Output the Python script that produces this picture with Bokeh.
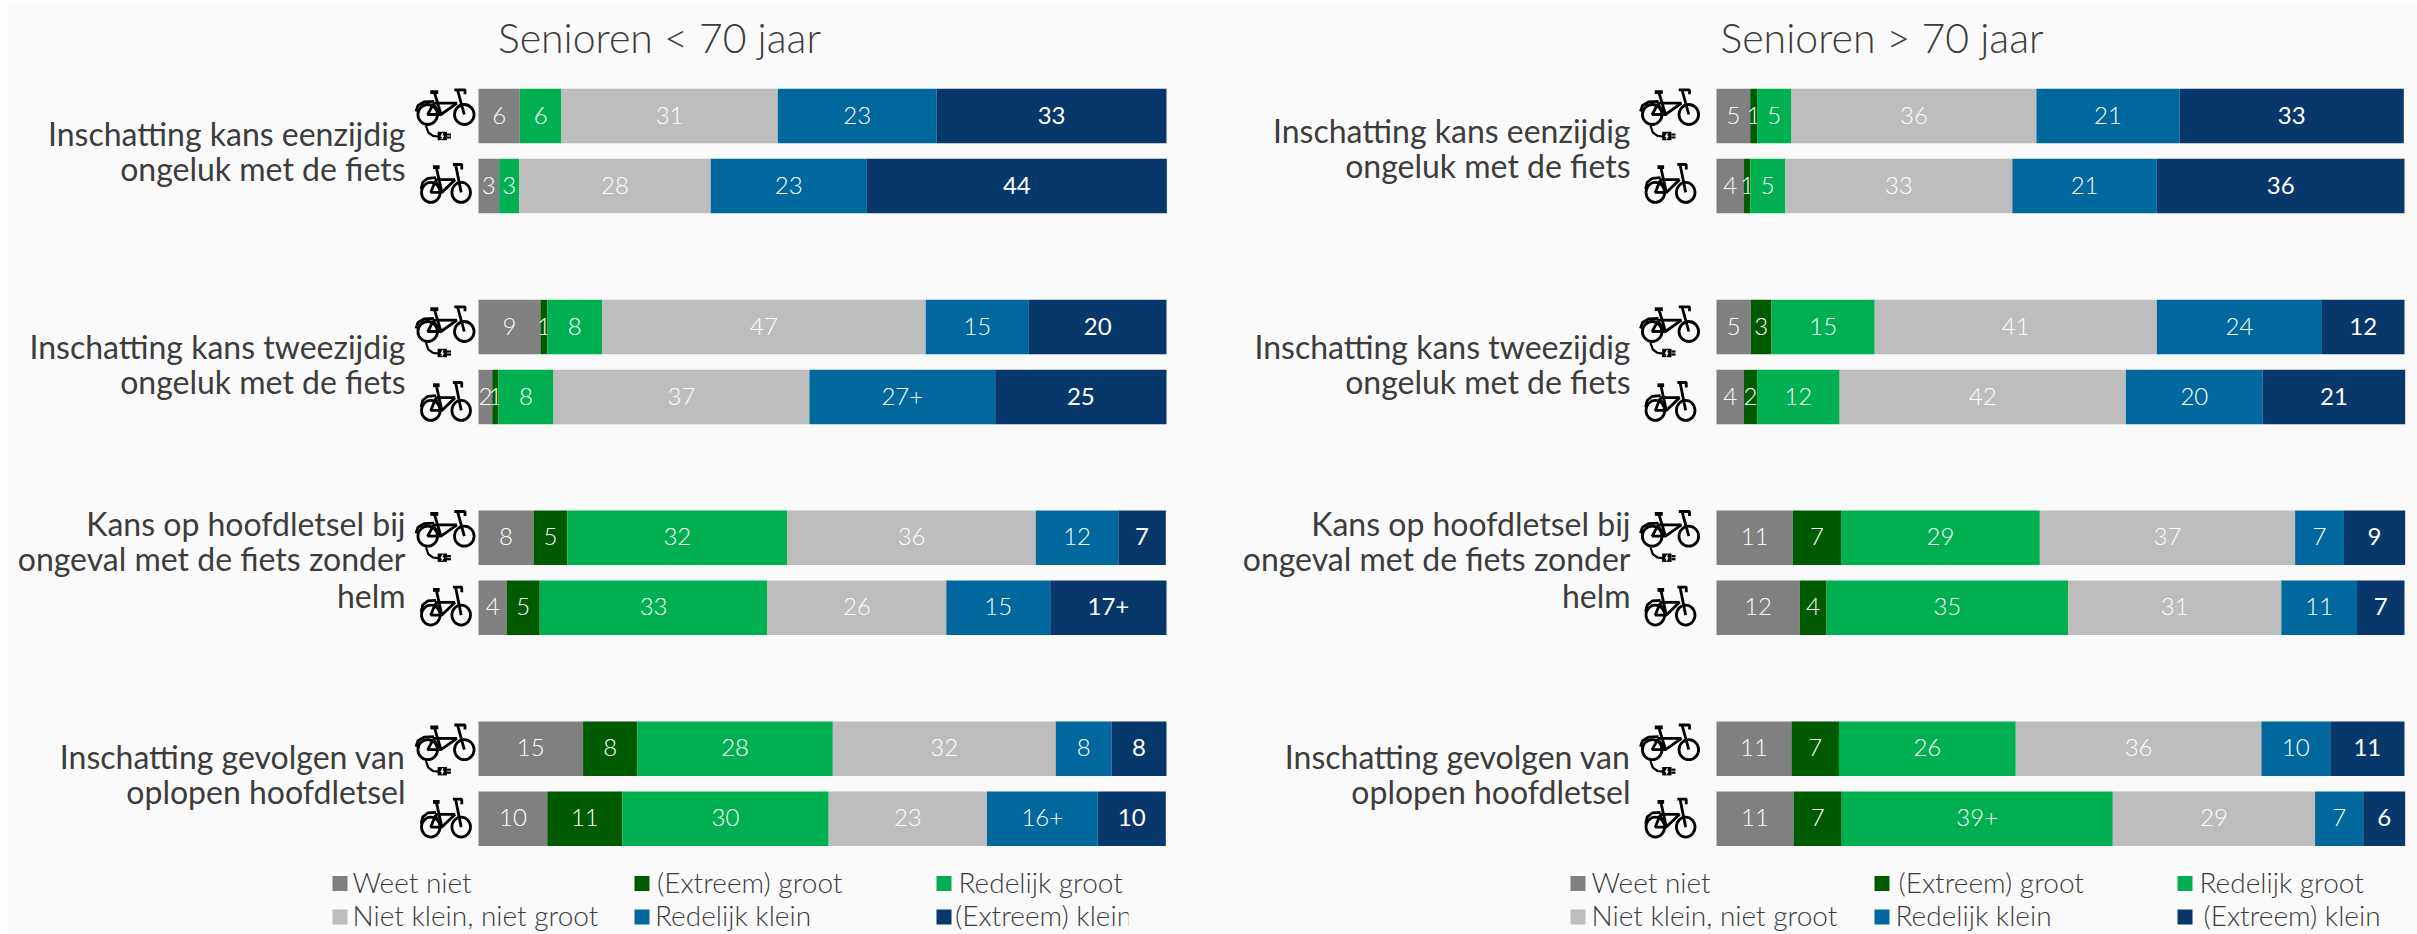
from bokeh.plotting import figure
from bokeh.layouts import row
from bokeh.models import Range1d, ColumnDataSource
from bokeh.core.properties import value
from bokeh.embed import file_html
from bokeh.resources import INLINE

# ---------- data (e-bike / bike alternate, four questions) ----------
series_names = ["Weet niet", "(Extreem) groot", "Redelijk groot",
                "Niet klein, niet groot", "Redelijk klein", "(Extreem) klein"]
series_colors = ["#808080", "#005a00", "#00b050", "#bdbdbd", "#00689c", "#07376b"]
panel_titles = ["Senioren < 70 jaar", "Senioren > 70 jaar"]
questions = ["Inschatting kans eenzijdig\nongeluk met de fiets",
             "Inschatting kans tweezijdig\nongeluk met de fiets",
             "Kans op hoofdletsel bij\nongeval met de fiets zonder\nhelm",
             "Inschatting gevolgen van\noplopen hoofdletsel"]

young_weet_niet = [6.0, 3.0, 9.0, 2.0, 8.0, 4.1, 15.2, 10.0]
young_groot = [0.0, 0.0, 1.0, 0.9, 4.9, 4.8, 7.9, 10.9]
young_red_groot = [6.05, 2.9, 8.0, 8.0, 32.0, 33.1, 28.4, 30.0]
young_neutraal = [31.45, 27.85, 47.0, 37.2, 36.1, 26.0, 32.4, 23.0]
young_red_klein = [23.1, 22.7, 15.0, 27.0, 12.0, 15.1, 8.1, 16.1]
young_klein = [33.4, 43.6, 20.0, 24.9, 6.9, 16.9, 8.0, 9.9]
young_plus = [(3, 4), (5, 5), (7, 4)]

old_weet_niet = [4.9, 4.0, 5.0, 4.0, 11.1, 12.1, 10.9, 11.2]
old_groot = [1.0, 0.9, 3.0, 1.9, 7.0, 3.9, 6.9, 7.0]
old_red_groot = [5.0, 5.1, 15.0, 12.0, 28.9, 35.1, 25.7, 39.4]
old_neutraal = [35.6, 33.0, 41.0, 41.6, 37.1, 31.0, 35.7, 29.4]
old_red_klein = [20.8, 21.0, 24.0, 19.9, 7.1, 11.0, 10.0, 7.0]
old_klein = [32.6, 36.0, 12.0, 20.7, 8.9, 6.9, 10.8, 6.1]
old_plus = [(7, 2)]

# ---------- layout (pixels of the page) ----------
BG = "#fafafa"
TEXT = "#3c3c3c"
FONT = "Lato Light"
FONT_REG = "Lato"
BAR_W = 688.0
UNIT = BAR_W / 100
ROW_TOPS = [88.3, 158.3, 299.3, 369.3, 510, 580, 721, 791]
BAR_H = 54.4
ICON_DY = [-1.5, -2, 4.5, 5, -1.5, -1, 1, 0]
LABEL_MID = [[133, 168], [346, 381], [523, 558, 595], [756, 791]]
LEG_ROWS = [883, 916.5]
PAGE_H = 934

PANELS = [
    dict(width=1208, frame_left=7, bar=478, label_x=405, icon_x=445.5, title_x=497.4,
         rows=[young_weet_niet, young_groot, young_red_groot, young_neutraal, young_red_klein, young_klein],
         plus=young_plus, leg_sq=[332, 634, 936], leg_tx=[[352, 656.5, 958], [352, 654.5, 954.5]],
         label_dy=0, clip_at=1128),
    dict(width=1209, frame_left=1208, bar=1716, label_x=1630, icon_x=1670, title_x=1720,
         rows=[old_weet_niet, old_groot, old_red_groot, old_neutraal, old_red_klein, old_klein],
         plus=old_plus, leg_sq=[1570, 1874, 2177], leg_tx=[[1591, 1898, 2199], [1591, 1895, 2203]],
         label_dy=-3, clip_at=None),
]

ICON_LINES = [
    [(-11.7, -22.3), (-5, 0)],                          # seat tube
    [(-30, -3), (-28, -9), (-22, -12.5), (-12, -13)],   # rear fender
    [(-13.3, -11.3), (11, -11.3)],                      # top tube
    [(11, -11.3), (-5, 0), (-18.3, 0), (-12.7, -10.3), (-5, 0)],  # down tube, rear triangle
    [(18.3, 0), (11.7, -24)],                           # fork
    [(8.3, -24.7), (19, -24.7), (19, -20.3)],           # handlebar
]
ICON_CABLE = [[(-20, 11.3), (-17.7, 18), (-13, 21.3), (-8, 22)],
              [(1, 20), (5, 20)], [(1, 23), (5, 23)]]
ICON_SADDLE = [(-15.7, -22.3), (-7.7, -22.3)]
ICON_BOLT = [(-3, 18.6), (-5, 22), (-2.6, 21.4), (-4.3, 24.6)]
PLUG = (-3.7, 21.5, 9.3, 8.4)


def make_panel(cfg, idx):
    bar = cfg["bar"]
    to_x = lambda px: (px - bar) / UNIT
    first = idx == 0
    p = figure(width=cfg["width"], height=PAGE_H, output_backend="svg", toolbar_location=None,
               x_range=Range1d(to_x(cfg["frame_left"]), to_x(cfg["frame_left"] + cfg["width"] - (7 if first else 0))),
               y_range=Range1d(PAGE_H, 3), x_axis_location=None, y_axis_location=None,
               min_border=0, min_border_left=7 if first else 0, min_border_top=3,
               background_fill_color=BG, border_fill_color="#ffffff",
               outline_line_color=None)
    p.grid.visible = False

    # stacked bars
    cum = [0.0] * 8
    for s, vals in enumerate(cfg["rows"]):
        lefts = list(cum)
        cum = [a + b for a, b in zip(cum, vals)]
        src = ColumnDataSource(dict(left=lefts, right=cum,
                                    y=[t + BAR_H / 2 for t in ROW_TOPS]))
        p.hbar(y="y", left="left", right="right", height=BAR_H, source=src,
               fill_color=series_colors[s], line_color=None)
        txt, xs, ys = [], [], []
        for r, v in enumerate(vals):
            if v < 0.5:
                continue
            txt.append(f"{round(v)}" + ("+" if (r, s) in cfg["plus"] else ""))
            xs.append(lefts[r] + v / 2)
            ys.append(ROW_TOPS[r] + BAR_H / 2 - 1)
        p.text(xs, ys, text=txt, text_align="center", text_baseline="middle",
               text_color="#ffffff", text_font=value(FONT_REG if s == 5 else FONT),
               text_font_size="24px")

    # title
    p.text([to_x(cfg["title_x"])], [37], text=[panel_titles[idx]],
           text_font=value(FONT), text_font_size="41px", text_color=TEXT,
           text_align="left", text_baseline="middle")

    # question labels
    for g, q in enumerate(questions):
        for line, mid in zip(q.split("\n"), LABEL_MID[g]):
            dy = cfg["label_dy"] if g == 0 else 0
            p.text([to_x(cfg["label_x"])], [mid + dy], text=[line], text_font=value(FONT_REG),
                   text_font_size="32px", text_color=TEXT, text_align="right",
                   text_baseline="middle")

    # bicycle pictograms
    for r, top in enumerate(ROW_TOPS):
        electric = r % 2 == 0
        sx, sy = (1.0, 1.0) if electric else (0.83, 1.13)
        cx = cfg["icon_x"]
        cy = top + BAR_H / 2 + ICON_DY[r] + (0 if electric else 8.4)
        X = lambda a: to_x(cx + sx * a)
        Y = lambda b: cy + sy * b
        for pts in ICON_LINES:
            p.line([X(a) for a, _ in pts], [Y(b) for _, b in pts], line_color="#000000", line_width=2.8)
        p.line([X(a) for a, _ in ICON_SADDLE], [Y(b) for _, b in ICON_SADDLE], line_color="#000000", line_width=3.8)
        for a in (-18.3, 18.3):
            p.ellipse([X(a)], [cy], width=(19.6 if electric else 18.6) / UNIT, height=20.0,
                      fill_color=None, line_color="#000000", line_width=2.8)
        if electric:
            for pts in ICON_CABLE:
                p.line([X(a) for a, _ in pts], [Y(b) for _, b in pts], line_color="#000000", line_width=2.2)
            pa, pb, pw, ph = PLUG
            p.rect([X(pa)], [Y(pb)], width=pw / UNIT, height=ph, fill_color="#000000", line_color=None)
            p.line([X(a) for a, _ in ICON_BOLT], [Y(b) for _, b in ICON_BOLT], line_color="#ffffff", line_width=1.2)

    # legend
    order = [[0, 1, 2], [3, 4, 5]]
    for ri, yy in enumerate(LEG_ROWS):
        for ci in range(3):
            k = order[ri][ci]
            p.rect([to_x(cfg["leg_sq"][ci] + 7.5)], [yy], width=15 / UNIT, height=15,
                   fill_color=series_colors[k], line_color=None)
            p.text([to_x(cfg["leg_tx"][ri][ci])], [yy - 2], text=[series_names[k]],
                   text_font=value(FONT), text_font_size="28px", text_color=TEXT,
                   text_align="left", text_baseline="middle")
    if cfg["clip_at"]:
        p.rect([to_x(cfg["clip_at"] + 15)], [LEG_ROWS[1]], width=30 / UNIT, height=32,
               fill_color=BG, line_color=None)
    return p


page = row(make_panel(PANELS[0], 0), make_panel(PANELS[1], 1), spacing=0)
open("out.html", "w").write(file_html(page, INLINE))
